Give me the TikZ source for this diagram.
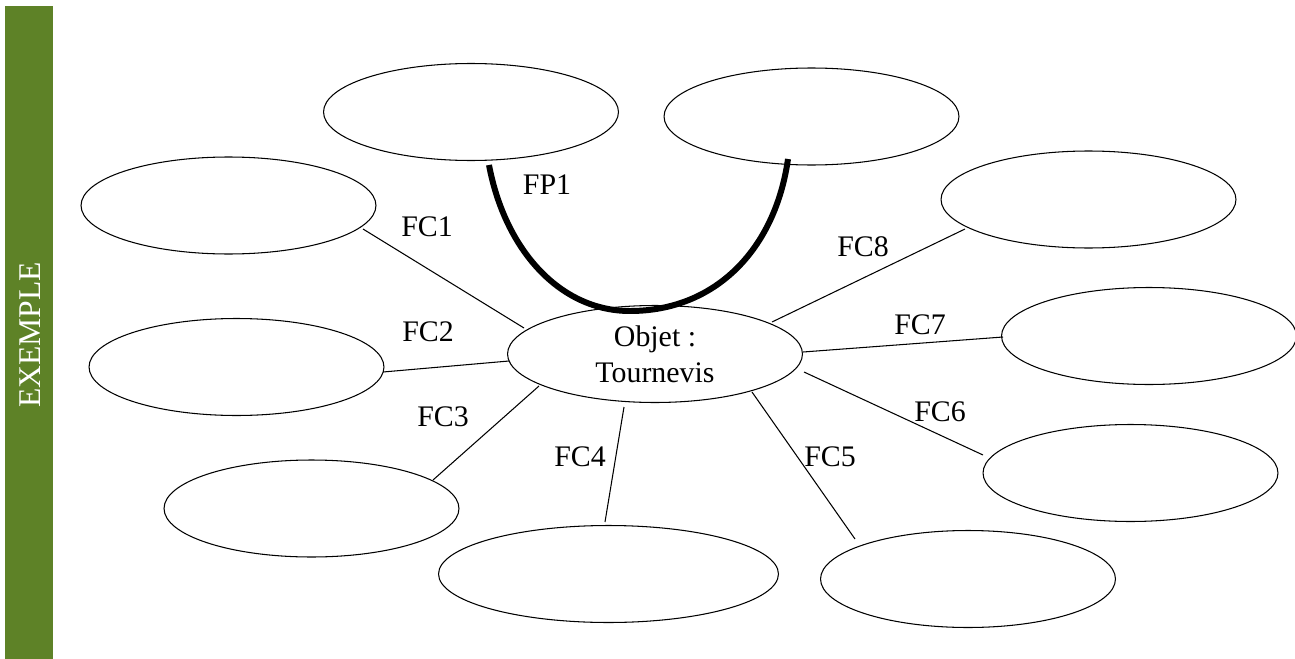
\documentclass[tikz,border=0pt]{standalone}
\usepackage{fontspec}
\setmainfont{Liberation Serif}
\usetikzlibrary{shapes.geometric}
\definecolor{bargreen}{RGB}{94,130,39}
\begin{document}
\begin{tikzpicture}[x=0.02cm,y=-0.02cm,
  bubble/.style={draw=black,line width=0.6pt,ellipse,inner sep=0pt,minimum width=5.9cm,minimum height=1.94cm},
  wide/.style={bubble,minimum width=6.8cm},
  link/.style={draw=black,line width=0.6pt},
  lbl/.style={font=\fontsize{17}{20.5}\selectfont,inner sep=0pt},
  fp/.style={draw=black,line width=3.4pt}]
\useasboundingbox[fill=white] (0,0) rectangle (1295,659);
% left band
\fill[bargreen] (5,6) rectangle (53,659);
\node[rotate=90,text=white,font=\fontsize{18}{20}\selectfont,inner sep=0pt] (band) at (30,335) {EXEMPLE};
% bubbles
\node[bubble] (tl) at (471,112) {};
\node[bubble] (tr) at (811.5,116.5) {};
\node[bubble] (l1) at (228.5,205.5) {};
\node[bubble] (l2) at (236.5,367) {};
\node[bubble] (l3) at (311.5,508.5) {};
\node[wide]   (b1) at (608.5,574) {};
\node[bubble] (b2) at (968,579) {};
\node[bubble] (r3) at (1130.5,473) {};
\node[bubble] (r2) at (1149,336) {};
\node[bubble] (r1) at (1088.5,199.5) {};
\node[bubble,align=center,font=\fontsize{17}{20.5}\selectfont] (obj) at (655,354) {Objet :\\Tournevis};
% connector end points
\coordinate (a1) at (363,229); \coordinate (o1) at (524,328);
\coordinate (a2) at (383,372); \coordinate (o2) at (509,361);
\coordinate (a3) at (433,480); \coordinate (o3) at (539,386);
\coordinate (a4) at (605,522); \coordinate (o4) at (624,407);
\coordinate (a5) at (855,539); \coordinate (o5) at (752,392);
\coordinate (a6) at (983,455); \coordinate (o6) at (804,372);
\coordinate (a7) at (1003,337); \coordinate (o7) at (803,352);
\coordinate (a8) at (965,229); \coordinate (o8) at (772,322);
\draw[link] (a1) -- (o1);
\draw[link] (a2) -- (o2);
\draw[link] (a3) -- (o3);
\draw[link] (a4) -- (o4);
\draw[link] (a5) -- (o5);
\draw[link] (a6) -- (o6);
\draw[link] (a7) -- (o7);
\draw[link] (a8) -- (o8);
% FP1 curve
\coordinate (fpa) at (489,165);
\coordinate (fpm) at (630,311);
\coordinate (fpb) at (788,159);
\draw[fp] (fpa) .. controls (505,250) and (560,311) .. (fpm)
               .. controls (715,311) and (775,250) .. (fpb);
% labels
\node[lbl] (fc1) at (427,227) {FC1};
\node[lbl] (fc2) at (428,332) {FC2};
\node[lbl] (fc3) at (443,417) {FC3};
\node[lbl] (fc4) at (580,457) {FC4};
\node[lbl] (fc5) at (830,457) {FC5};
\node[lbl] (fc6) at (940,412) {FC6};
\node[lbl] (fc7) at (920,325) {FC7};
\node[lbl] (fc8) at (863,247) {FC8};
\node[lbl] (fp1) at (547,185) {FP1};
\end{tikzpicture}
\end{document}
